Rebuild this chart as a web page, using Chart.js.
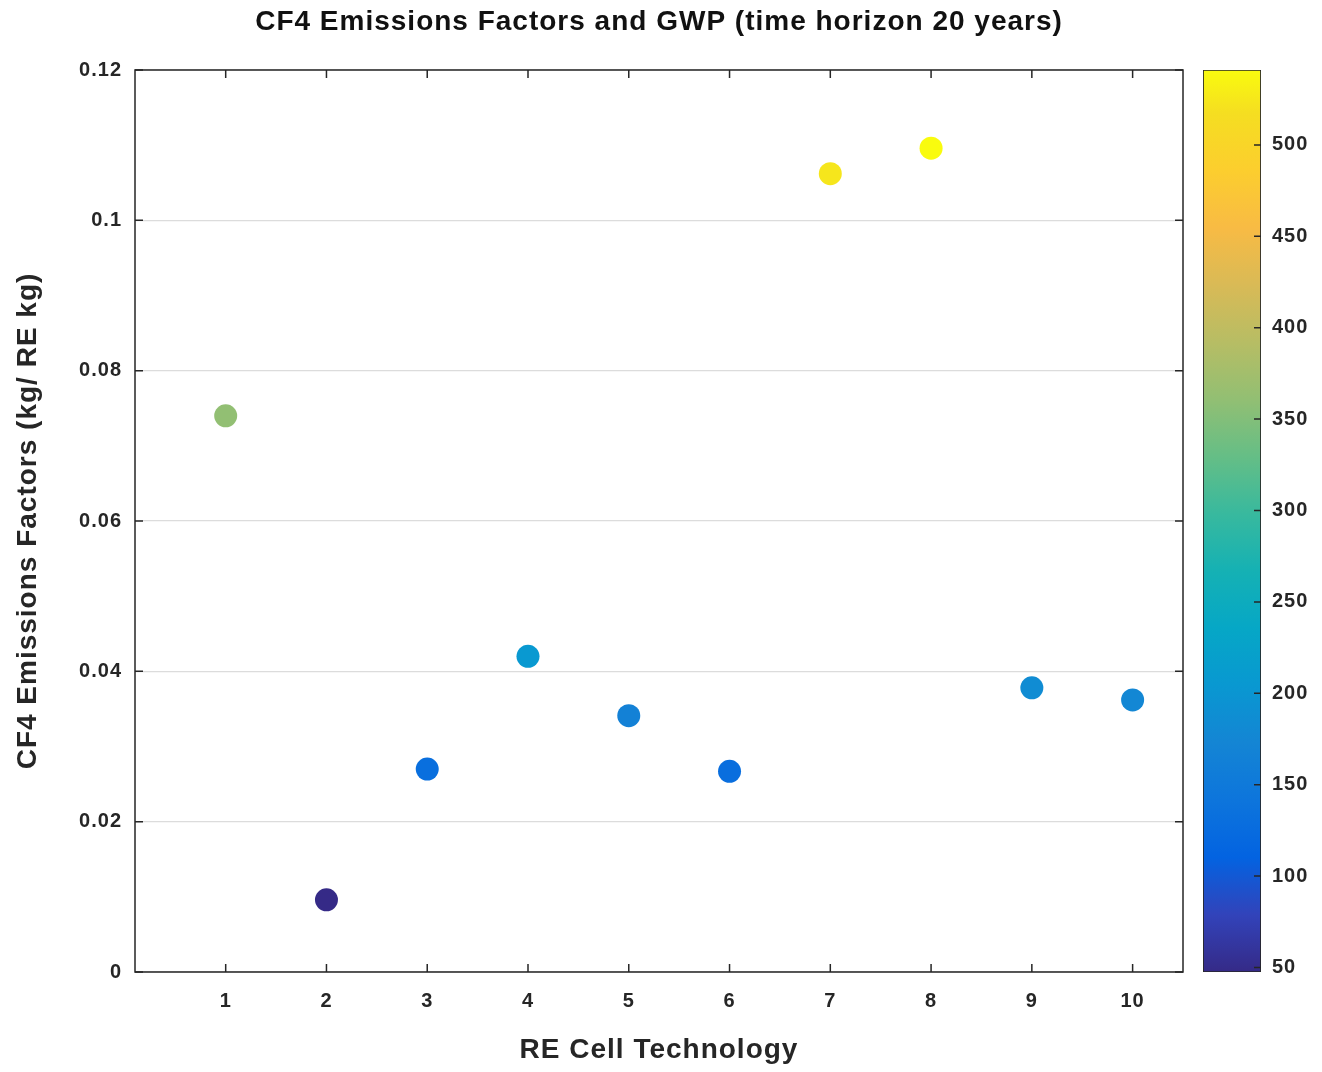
<!DOCTYPE html>
<html>
<head>
<meta charset="utf-8">
<script src="https://cdn.jsdelivr.net/npm/chart.js@4.4.0/dist/chart.umd.min.js"></script>
<style>
  body { margin: 0; background: #fff; }
  #wrap { position: relative; width: 1322px; height: 1072px; }
  #main { position: absolute; left: 0; top: 0; }
  #cbar { position: absolute; left: 1183px; top: 0; }
</style>
</head>
<body>
<div id="wrap">
  <canvas id="main" width="1322" height="1072"></canvas>
  <canvas id="cbar" width="139" height="1072"></canvas>
</div>
<script>
// data
var tech = [1, 2, 3, 4, 5, 6, 7, 8, 9, 10];
var emissions = [0.0740, 0.0096, 0.0270, 0.0420, 0.0341, 0.0267, 0.1062, 0.1096, 0.0378, 0.0362];
var gwp = [361, 47.5, 131, 205, 166, 130, 524, 541, 184, 177];
var xTicks = [1, 2, 3, 4, 5, 6, 7, 8, 9, 10];
var yTicks = [0, 0.02, 0.04, 0.06, 0.08, 0.1, 0.12];
var cbTicks = [50, 100, 150, 200, 250, 300, 350, 400, 450, 500];

var FONT = "'Liberation Sans', Arial, Helvetica, sans-serif";
var INK = "#262626";

// parula colormap (sampled)
var parula = [
  [0, [0.2081, 0.1663, 0.5292]],
  [4, [0.1959, 0.2645, 0.7279]],
  [8, [0.0117, 0.3875, 0.8820]],
  [12, [0.0498, 0.4586, 0.8641]],
  [16, [0.0793, 0.5200, 0.8312]],
  [20, [0.0343, 0.5966, 0.8199]],
  [24, [0.0228, 0.6535, 0.7768]],
  [28, [0.0843, 0.6928, 0.7062]],
  [32, [0.2178, 0.7250, 0.6193]],
  [36, [0.3953, 0.7459, 0.5244]],
  [40, [0.5709, 0.7485, 0.4494]],
  [44, [0.7184, 0.7411, 0.3905]],
  [48, [0.8507, 0.7299, 0.3360]],
  [52, [0.9739, 0.7314, 0.2666]],
  [56, [0.9880, 0.8066, 0.1794]],
  [60, [0.9626, 0.8705, 0.1309]],
  [63, [0.9763, 0.9831, 0.0538]]
];
function rgb(c) {
  return "rgb(" + Math.round(c[0] * 255) + "," + Math.round(c[1] * 255) + "," + Math.round(c[2] * 255) + ")";
}
function parulaAt(t) {
  t = Math.max(0, Math.min(1, t)) * 63;
  for (var i = 1; i < parula.length; i++) {
    var a = parula[i - 1], b = parula[i];
    if (t <= b[0]) {
      var f = (t - a[0]) / (b[0] - a[0]);
      return rgb([0, 1, 2].map(function (k) { return a[1][k] + (b[1][k] - a[1][k]) * f; }));
    }
  }
  return rgb(parula[parula.length - 1][1]);
}

var cmin = Math.min.apply(null, gwp);
var cmax = Math.max.apply(null, gwp);
var pointColors = gwp.map(function (v) { return parulaAt((v - cmin) / (cmax - cmin)); });

// slightly wider text, like the MATLAB export
var spacingPlugin = {
  id: "spacing",
  beforeDraw: function (chart) { chart.ctx.letterSpacing = "1px"; }
};

// MATLAB style box with inward ticks
var boxPlugin = {
  id: "box",
  afterDraw: function (chart) {
    var a = chart.chartArea, c = chart.ctx, L = 8;
    c.save();
    c.strokeStyle = INK;
    c.lineWidth = 1.5;
    c.strokeRect(a.left, a.top, a.right - a.left, a.bottom - a.top);
    c.beginPath();
    xTicks.forEach(function (v) {
      var px = chart.scales.x.getPixelForValue(v);
      c.moveTo(px, a.bottom); c.lineTo(px, a.bottom - L);
      c.moveTo(px, a.top); c.lineTo(px, a.top + L);
    });
    yTicks.forEach(function (v) {
      var py = chart.scales.y.getPixelForValue(v);
      c.moveTo(a.left, py); c.lineTo(a.left + L, py);
      c.moveTo(a.right, py); c.lineTo(a.right - L, py);
    });
    c.stroke();
    c.restore();
  }
};

new Chart(document.getElementById("main"), {
  type: "scatter",
  data: {
    datasets: [{
      data: tech.map(function (t, i) { return { x: t, y: emissions[i] }; }),
      backgroundColor: pointColors,
      borderWidth: 0,
      pointRadius: 11.5,
      pointHoverRadius: 11.5
    }]
  },
  options: {
    responsive: false,
    animation: false,
    devicePixelRatio: 1,
    layout: { padding: { left: 0, top: 0, right: 139, bottom: 0 } },
    plugins: {
      legend: { display: false },
      tooltip: { enabled: false },
      title: {
        display: true,
        fullSize: false,
        text: "CF4 Emissions Factors and GWP (time horizon 20 years)",
        color: "#111",
        font: { family: FONT, size: 28, weight: "bold" },
        padding: { top: 5.2, bottom: 31.2 }
      }
    },
    scales: {
      x: {
        type: "linear",
        min: 0.1,
        max: 10.5,
        afterBuildTicks: function (s) { s.ticks = xTicks.map(function (v) { return { value: v }; }); },
        afterFit: function (s) { s.height = 100; },
        grid: { display: false, drawTicks: false },
        border: { display: false },
        ticks: {
          color: INK,
          padding: 17,
          font: { family: FONT, size: 20, weight: "bold" },
          callback: function (v) { return String(v); }
        },
        title: {
          display: true,
          text: "RE Cell Technology",
          color: INK,
          font: { family: FONT, size: 28, weight: "bold" },
          padding: { top: 0, bottom: 5 }
        }
      },
      y: {
        min: 0,
        max: 0.12,
        afterBuildTicks: function (s) { s.ticks = yTicks.map(function (v) { return { value: v }; }); },
        afterFit: function (s) { s.width = 135; },
        grid: { color: "#dcdcdc", lineWidth: 1.2, drawTicks: false },
        border: { display: false },
        ticks: {
          color: INK,
          padding: 13,
          font: { family: FONT, size: 20, weight: "bold" },
          callback: function (v) { return v === 0 ? "0" : String(+v.toFixed(2)); }
        },
        title: {
          display: true,
          text: "CF4 Emissions Factors (kg/ RE kg)",
          color: INK,
          font: { family: FONT, size: 28, weight: "bold" },
          padding: { top: 11, bottom: 0 }
        }
      }
    }
  },
  plugins: [spacingPlugin, boxPlugin]
});

// Colorbar
var cbTickPlugin = {
  id: "cbticks",
  afterDraw: function (chart) {
    var a = chart.chartArea, c = chart.ctx;
    c.save();
    c.strokeStyle = INK;
    c.lineWidth = 1.5;
    c.beginPath();
    cbTicks.forEach(function (v) {
      var py = chart.scales.y.getPixelForValue(v);
      c.moveTo(a.right, py); c.lineTo(a.right - 7, py);
    });
    c.stroke();
    c.restore();
  }
};

new Chart(document.getElementById("cbar"), {
  type: "bar",
  data: {
    labels: ["GWP"],
    datasets: [{
      data: [[cmin, cmax]],
      backgroundColor: function (ctx) {
        var chart = ctx.chart;
        if (!chart.chartArea) return "#888";
        var ys = chart.scales.y;
        var g = chart.ctx.createLinearGradient(0, ys.getPixelForValue(cmin), 0, ys.getPixelForValue(cmax));
        parula.forEach(function (p) { g.addColorStop(p[0] / 63, rgb(p[1])); });
        return g;
      },
      borderColor: INK,
      borderWidth: 1.2,
      borderSkipped: false,
      categoryPercentage: 1,
      barPercentage: 1
    }]
  },
  options: {
    responsive: false,
    animation: false,
    devicePixelRatio: 1,
    layout: { padding: { left: 20, top: 70, right: 0, bottom: 100 } },
    plugins: { legend: { display: false }, tooltip: { enabled: false } },
    scales: {
      x: { display: false },
      y: {
        position: "right",
        min: cmin,
        max: cmax,
        afterBuildTicks: function (s) { s.ticks = cbTicks.map(function (v) { return { value: v }; }); },
        afterFit: function (s) { s.width = 61; },
        grid: { display: false, drawTicks: false },
        border: { display: false },
        ticks: {
          color: INK,
          padding: 11,
          font: { family: FONT, size: 20, weight: "bold" }
        }
      }
    }
  },
  plugins: [spacingPlugin, cbTickPlugin]
});
</script>
</body>
</html>
